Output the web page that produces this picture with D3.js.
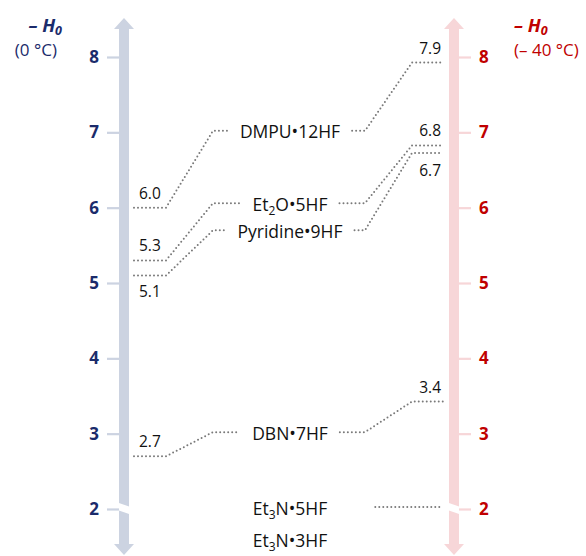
<!DOCTYPE html>
<html><head><meta charset="utf-8">
<script src="https://cdn.jsdelivr.net/npm/d3@7"></script>
<style>body{margin:0;background:#fff}svg{display:block}text{font-family:"Open Sans","Noto Sans",sans-serif}</style>
</head><body><svg id="c" width="586" height="556"></svg>
<script>
// ---- data ----
const compounds   = ["DMPU•12HF", "Et2O•5HF", "Pyridine•9HF", "DBN•7HF", "Et3N•5HF", "Et3N•3HF"];
const h0At0C      = [6.0, 5.3, 5.1, 2.7, null, null];
const h0AtMinus40 = [7.9, 6.8, 6.7, 3.4, 2.0, null];
const tickValues  = [2, 3, 4, 5, 6, 7, 8];
// ---- layout (label rows, in axis units) ----
const labelLevel  = [7.0, 6.04, 5.68, 3.0, 2.0, 1.57];
const leftBelow   = [false, false, true, false, false, false];
const rightBelow  = [false, false, true, false, false, false];

const svg = d3.select("#c");
const y = d3.scaleLinear().domain([2, 8]).range([509, 57]);
const xL = 124, xR = 454, xMid = 290;
const navy = "#1b2b6b", red = "#c00000";

function drawAxis(cx, col, tickSide, tickCol) {
  const g = svg.append("g");
  const top = 18, bot = 555, hw = 5, aw = 10, ah = 11;
  g.append("path").attr("fill", col)
    .attr("d", `M${cx},${top} L${cx+aw},${top+ah} L${cx+hw},${top+ah} L${cx+hw},${bot-ah} L${cx+aw},${bot-ah} L${cx},${bot} L${cx-aw},${bot-ah} L${cx-hw},${bot-ah} L${cx-hw},${top+ah} L${cx-aw},${top+ah} Z`);
  // break
  g.append("path").attr("fill", "#fff")
    .attr("d", `M${cx-8},${502} L${cx+8},${507.5} L${cx+8},${515} L${cx-8},${509.5} Z`);
  const axis = (tickSide < 0 ? d3.axisLeft(y) : d3.axisRight(y)).tickValues(tickValues).tickSize(12).tickPadding(8).tickFormat(d3.format("d"));
  const ag = g.append("g").attr("transform", `translate(${cx + tickSide*hw},0)`).call(axis);
  ag.select(".domain").remove();
  ag.selectAll(".tick line").attr("stroke", col).attr("stroke-width", 2.2);
  ag.selectAll(".tick text").attr("fill", tickCol).attr("font-size", 17).attr("font-weight", "bold")
    .attr("font-family", '"Open Sans","Noto Sans",sans-serif');
}
drawAxis(xL, "#ccd3e1", -1, navy);
drawAxis(xR, "#f7d6d8", 1, red);

// headers
function header(x, x2, anchor, col, sub) {
  const t = svg.append("text").attr("x", x).attr("y", 32).attr("fill", col).attr("font-size", 18.5)
    .attr("font-weight", "bold").attr("font-style", "italic").attr("text-anchor", anchor);
  t.append("tspan").text("– H");
  t.append("tspan").attr("font-size", 12.5).attr("dy", 3).text("0");
  svg.append("text").attr("x", x2).attr("y", 56).attr("fill", col).attr("font-size", 17)
    .attr("text-anchor", anchor).text(sub);
}
header(62, 57, "end", navy, "(0 °C)");
header(514, 514, "start", red, "(– 40 °C)");

// compound labels
const lab = svg.append("g");
const boxes = compounds.map((c, i) => {
  const t = lab.append("text").attr("x", xMid).attr("y", y(labelLevel[i]) + 6).attr("text-anchor", "middle")
    .attr("font-size", 17.5).attr("fill", "#111");
  const m = c.match(/^(Et)(\d)(.*)$/);
  if (m) {
    t.append("tspan").text(m[1]);
    t.append("tspan").attr("font-size", 12).attr("dy", 4).text(m[2]);
    t.append("tspan").attr("dy", -4).text(m[3]);
  } else t.text(c);
  return t.node().getBBox();
});

const dotted = (sel) => sel.attr("fill", "none").attr("stroke", "#7a7a7a").attr("stroke-width", 2)
  .attr("stroke-linecap", "round").attr("stroke-dasharray", "0 4");
const fmt = d3.format(".1f");
const lines = svg.append("g");
compounds.forEach((c, i) => {
  const ly = y(labelLevel[i]) - 1.5, b = boxes[i];
  if (h0At0C[i] != null) {
    const v = y(h0At0C[i]);
    lines.append("path").call(dotted)
      .attr("d", `M${xL+10},${v} H${166} L${213},${ly} H${b.x - 12}`);
    svg.append("text").attr("x", 139).attr("y", leftBelow[i] ? v + 22 : v - 9)
      .attr("font-size", 15.5).attr("fill", "#111").text(fmt(h0At0C[i]));
  }
  if (h0At0C[i] == null && h0AtMinus40[i] != null) {
    lines.append("path").call(dotted)
      .attr("d", `M${b.x + b.width + 48},${y(h0AtMinus40[i]) - 2} H${xR - 12}`);
  } else if (h0AtMinus40[i] != null) {
    const v = y(h0AtMinus40[i]) - 2;
    lines.append("path").call(dotted)
      .attr("d", `M${b.x + b.width + 12},${ly} H${365} L${412},${v} H${xR - 11}`);
    svg.append("text").attr("x", 441).attr("y", rightBelow[i] ? v + 23 : v - 9).attr("text-anchor", "end")
      .attr("font-size", 15.5).attr("fill", "#111").text(fmt(h0AtMinus40[i]));
  }
});
</script></body></html>
